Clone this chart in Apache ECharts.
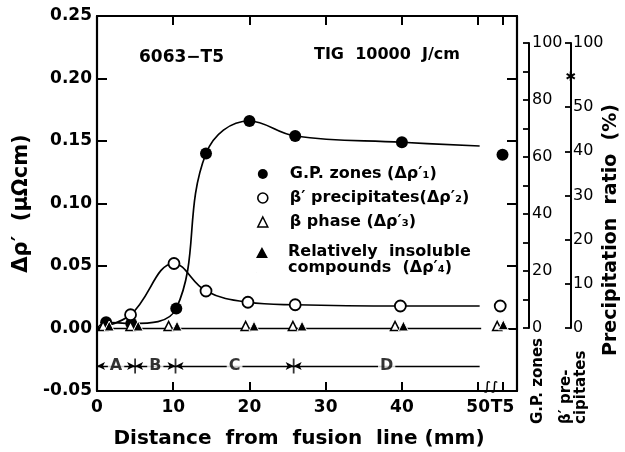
<!DOCTYPE html>
<html><head><meta charset="utf-8">
<script src="https://cdn.jsdelivr.net/npm/echarts@6/dist/echarts.min.js"></script>
<style>html,body{margin:0;padding:0;background:#fff}#c{width:625px;height:452px}</style>
</head><body><div id="c"></div>
<script>
// ---------- data ----------
const t5X = 53.2;                         // position of the "T5" column on the x scale
const xTickValues = [0, 10, 20, 30, 40, 50];

const gpX = [1.2, 4.5, 10.4, 14.3, 20.0, 26.0, 40.0];
const gpY = [0.005, 0.004, 0.016, 0.140, 0.166, 0.154, 0.149];
const gpT5 = 0.139;
const gpCurveStart = [0, 0.000];
const gpCurveEnd = [50.2, 0.146];

const bpX = [4.4, 10.1, 14.3, 19.8, 26.0, 39.8];
const bpY = [0.011, 0.052, 0.030, 0.021, 0.019, 0.018];
const bpT5 = [52.9, 0.018];
const bpCurveStart = [0, 0.000];
const bpCurveEnd = [50.2, 0.018];

const betaX = [0.8, 4.4, 9.4, 19.5, 25.7, 39.1];
const betaY = [0.002, 0.002, 0.002, 0.002, 0.002, 0.002];
const betaT5 = [52.5, 0.002];

const insX = [1.6, 5.4, 10.5, 20.6, 26.9, 40.2];
const insY = [0.002, 0.002, 0.002, 0.002, 0.002, 0.002];
const insT5 = [53.3, 0.003];

const baseLine = [[0, 0], [50.4, 0]];

const regionNames = ['A', 'B', 'C', 'D'];
const regionEdges = [0, 5.0, 10.3, 25.8, 50.2];
const regionY = -0.03;

const gpRatioTicks = [0, 10, 20, 30, 40, 50, 60, 70, 80, 90, 100];
const gpRatioLabels = [0, 20, 40, 60, 80, 100];
const precipTicks = [0, 10, 20, 30, 40, 50];
const precipTopValue = 64.5;   // where the broken axis shows "100"
const precipTopLabel = '100';

const names = ['G.P. zones (Δρ′₁)', 'β′ precipitates(Δρ′₂)', 'β phase (Δρ′₃)', 'Relatively insoluble compounds (Δρ′₄)'];

// ---------- chart ----------
const F = 'DejaVu Sans';
const K = '#000';
const pair = (xs, ys) => xs.map((x, i) => [x, ys[i]]);

const chart = echarts.init(document.getElementById('c'), null, {renderer: 'canvas'});

const axLine = {show: true, onZero: false, lineStyle: {color: K, width: 2.2}};

const option = {
  animation: false,
  backgroundColor: '#fff',
  grid: [
    {left: 97, right: 108, top: 16, bottom: 61, containLabel: false, outerBoundsMode: 'none'},
    {left: 500, right: 96, top: 43, bottom: 124, containLabel: false, outerBoundsMode: 'none'},
    {left: 545, right: 54, top: 43, bottom: 124, containLabel: false, outerBoundsMode: 'none'}
  ],
  xAxis: [
    {gridIndex: 0, type: 'value', min: 0, max: 55.1, position: 'bottom',
     axisLine: axLine, splitLine: {show: false},
     axisTick: {show: true, inside: true, length: 9, lineStyle: {color: K, width: 2}, customValues: xTickValues.slice(1).concat([t5X])},
     axisLabel: {show: true, color: K, fontFamily: F, fontWeight: 'bold', fontSize: 17, margin: 8, customValues: xTickValues.concat([t5X]),
       formatter: v => (Math.abs(v - t5X) < 1e-6 ? 'T5' : String(v))},
     name: 'Distance  from  fusion  line (mm)', nameLocation: 'middle', nameGap: 38,
     nameTextStyle: {color: K, fontFamily: F, fontWeight: 'bold', fontSize: 20, padding: [0, 16, 0, 0]}},
    {gridIndex: 0, type: 'value', min: 0, max: 55.1, position: 'top',
     axisLine: axLine, splitLine: {show: false},
     axisTick: {show: true, inside: true, length: 9, lineStyle: {color: K, width: 2}, customValues: xTickValues.slice(1).concat([t5X])},
     axisLabel: {show: false}},
    {gridIndex: 1, type: 'value', show: false, min: 0, max: 1},
    {gridIndex: 2, type: 'value', show: false, min: 0, max: 1}
  ],
  yAxis: [
    {gridIndex: 0, type: 'value', min: -0.05, max: 0.25, interval: 0.05, position: 'left',
     axisLine: axLine, splitLine: {show: false},
     axisTick: {show: true, inside: true, length: 10, lineStyle: {color: K, width: 2}},
     axisLabel: {color: K, fontFamily: F, fontWeight: 'bold', fontSize: 17, margin: 5, showMinLabel: true, showMaxLabel: true,
       formatter: v => v.toFixed(2)},
     name: 'Δρ′  (μΩcm)', nameLocation: 'middle', nameGap: 63, nameRotate: 90,
     nameTextStyle: {color: K, fontFamily: F, fontWeight: 'bold', fontSize: 21}},
    {gridIndex: 0, type: 'value', min: -0.05, max: 0.25, interval: 0.05, position: 'right',
     axisLine: axLine, splitLine: {show: false},
     axisTick: {show: true, inside: true, length: 10, lineStyle: {color: K, width: 2}},
     axisLabel: {show: false}},
    {gridIndex: 1, type: 'value', min: 0, max: 100, interval: 10, position: 'right',
     axisLine: {show: true, onZero: false, lineStyle: {color: K, width: 2}}, splitLine: {show: false},
     axisTick: {show: true, inside: true, length: 6, lineStyle: {color: K, width: 1.8}, customValues: gpRatioTicks},
     axisLabel: {color: K, fontFamily: F, fontSize: 16, margin: 3, customValues: gpRatioLabels,
       showMinLabel: true, showMaxLabel: true}},
    {gridIndex: 2, type: 'value', min: 0, max: precipTopValue, position: 'right',
     axisLine: {show: true, onZero: false, lineStyle: {color: K, width: 2}}, splitLine: {show: false},
     axisTick: {show: true, inside: true, length: 6, lineStyle: {color: K, width: 1.8}, customValues: precipTicks.concat([precipTopValue])},
     axisLabel: {color: K, fontFamily: F, fontSize: 16, margin: 2, customValues: precipTicks.concat([precipTopValue]),
       showMinLabel: true, showMaxLabel: true,
       formatter: v => (v > 55 ? precipTopLabel : String(v))}}
  ],
  legend: [
    {data: [
       {name: names[0], icon: 'circle', itemStyle: {color: K, borderWidth: 0}},
       {name: names[1], icon: 'circle', itemStyle: {color: '#fff', borderColor: K, borderWidth: 1.6}},
       {name: names[2], icon: 'triangle', itemStyle: {color: '#fff', borderColor: K, borderWidth: 1.5}}],
     orient: 'vertical', left: 257, top: 165, itemGap: 6, itemWidth: 10, itemHeight: 10,
     selectedMode: false, padding: 0,
     textStyle: {color: K, fontFamily: F, fontWeight: 'bold', fontSize: 16, lineHeight: 18, padding: [0, 0, 0, 17]}},
    {data: [{name: names[3], icon: 'path://M6,0L12,11L0,11Z M0,26L0.2,26L0,26.2Z', itemStyle: {color: K, borderWidth: 0}}],
     orient: 'vertical', left: 256, top: 244, itemWidth: 12, itemHeight: 26,
     selectedMode: false, padding: 0,
     formatter: () => 'Relatively  insoluble\ncompounds  (Δρ′₄)',
     textStyle: {color: K, fontFamily: F, fontWeight: 'bold', fontSize: 16, lineHeight: 16, padding: [0, 0, 0, 15]}}
  ],
  series: [
    // curves
    {type: 'line', xAxisIndex: 0, yAxisIndex: 0, smooth: 0.4, symbol: 'none', z: 2,
     lineStyle: {color: K, width: 1.7},
     data: [gpCurveStart].concat(pair(gpX, gpY), [gpCurveEnd])},
    {type: 'line', xAxisIndex: 0, yAxisIndex: 0, smooth: 0.4, symbol: 'none', z: 2,
     lineStyle: {color: K, width: 1.7},
     data: [bpCurveStart].concat(pair(bpX, bpY), [bpCurveEnd])},
    {type: 'line', xAxisIndex: 0, yAxisIndex: 0, symbol: 'none', z: 2,
     lineStyle: {color: K, width: 1.7}, data: baseLine},
    // markers
    {name: names[0], type: 'scatter', xAxisIndex: 0, yAxisIndex: 0, symbol: 'circle', symbolSize: 12, z: 5,
     itemStyle: {color: K, opacity: 1},
     data: pair(gpX, gpY).concat([[t5X, gpT5]])},
    {name: names[1], type: 'scatter', xAxisIndex: 0, yAxisIndex: 0, symbol: 'circle', symbolSize: 11, z: 5,
     itemStyle: {color: '#fff', borderColor: K, borderWidth: 1.8, opacity: 1},
     data: pair(bpX, bpY).concat([bpT5])},
    {name: names[2], type: 'scatter', xAxisIndex: 0, yAxisIndex: 0, symbol: 'triangle', symbolSize: 9, z: 5,
     itemStyle: {color: '#fff', borderColor: K, borderWidth: 1.6, opacity: 1},
     data: pair(betaX, betaY).concat([betaT5])},
    {name: names[3], type: 'scatter', xAxisIndex: 0, yAxisIndex: 0, symbol: 'triangle', symbolSize: 10, z: 6,
     itemStyle: {color: K, borderColor: '#fff', borderWidth: 1, opacity: 1},
     data: pair(insX, insY).concat([insT5])},
    // region bar A-D
    {type: 'line', xAxisIndex: 0, yAxisIndex: 0, data: [], silent: true,
     markLine: {silent: true, animation: false, symbol: ['arrow', 'arrow'], symbolSize: [6, 8],
       lineStyle: {color: K, width: 1.4, type: 'solid'}, label: {show: false},
       data: regionNames.map((n, i) => [
         {coord: [regionEdges[i], regionY]},
         {coord: [regionEdges[i + 1], regionY], symbol: i === regionNames.length - 1 ? 'none' : 'arrow'}])}},
    {type: 'scatter', xAxisIndex: 0, yAxisIndex: 0, symbol: 'rect', symbolSize: [1.8, 15], z: 4, silent: true,
     itemStyle: {color: K},
     data: regionEdges.slice(1, -1).map(x => [x, regionY])},
    {type: 'scatter', xAxisIndex: 0, yAxisIndex: 0, symbolSize: 0, z: 6, silent: true,
     label: {show: true, position: 'inside', formatter: p => regionNames[p.dataIndex], color: K,
       fontFamily: F, fontWeight: 'bold', fontSize: 16, backgroundColor: '#fff', padding: [0, 2]},
     data: regionNames.map((n, i) => [(regionEdges[i] + regionEdges[i + 1]) / 2, regionY])}
  ],
  graphic: [
    {type: 'text', x: 139, y: 58, style: {text: '6063−T5', font: 'bold 17px "DejaVu Sans"', fill: K, verticalAlign: 'middle'}},
    {type: 'text', x: 314, y: 55, style: {text: 'TIG  10000  J/cm', font: 'bold 16px "DejaVu Sans"', fill: K, verticalAlign: 'middle'}},
    {type: 'text', x: 538, y: 424, rotation: Math.PI / 2, style: {text: 'G.P. zones', font: 'bold 15px "DejaVu Sans"', fill: K, align: 'left', verticalAlign: 'middle'}},
    {type: 'text', x: 566, y: 424, rotation: Math.PI / 2, style: {text: 'β′ pre-', font: 'bold 15px "DejaVu Sans"', fill: K, align: 'left', verticalAlign: 'middle'}},
    {type: 'text', x: 581, y: 424, rotation: Math.PI / 2, style: {text: 'cipitates', font: 'bold 15px "DejaVu Sans"', fill: K, align: 'left', verticalAlign: 'middle'}},
    {type: 'text', x: 611, y: 230, rotation: Math.PI / 2, style: {text: 'Precipitation  ratio  (%)', font: 'bold 19px "DejaVu Sans"', fill: K, align: 'center', verticalAlign: 'middle'}},
    {type: 'text', x: 571, y: 78, style: {text: '✱', font: 'bold 13px "DejaVu Sans"', fill: K, align: 'center', verticalAlign: 'middle'}},
    {type: 'text', x: 491, y: 387, style: {text: '∫∫', font: 'bold 12px "DejaVu Sans"', fill: K, align: 'center', verticalAlign: 'middle'}}
  ]
};
chart.setOption(option);
</script>
</body></html>
